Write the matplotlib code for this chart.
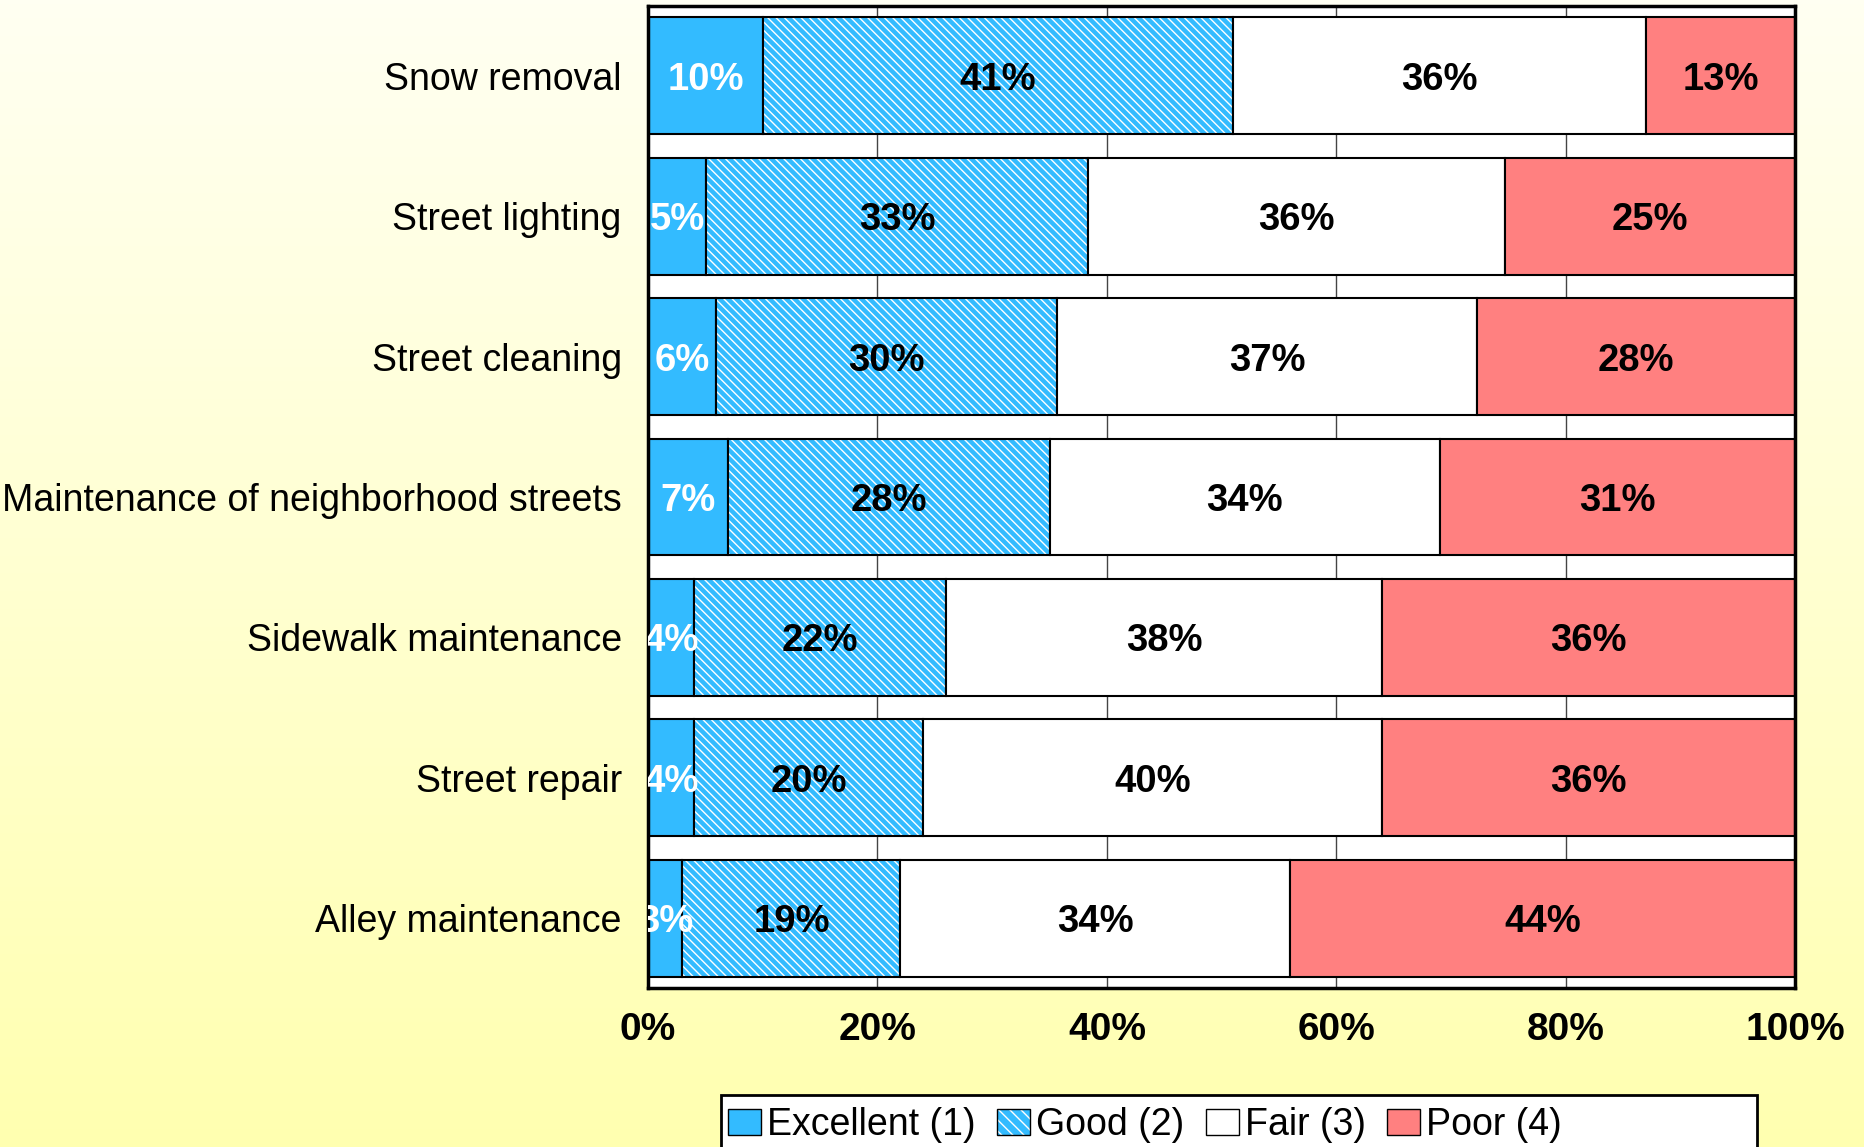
import numpy as np
import matplotlib
matplotlib.use('Agg')
import matplotlib.pyplot as plt
from matplotlib.patches import Patch, Rectangle
from matplotlib.legend_handler import HandlerTuple
from matplotlib.colors import LinearSegmentedColormap

plt.rcParams['font.family'] = ['Liberation Sans', 'DejaVu Sans']
plt.rcParams['hatch.linewidth'] = 1.0

categories = ["Snow removal", "Street lighting", "Street cleaning",
              "Maintenance of neighborhood streets", "Sidewalk maintenance",
              "Street repair", "Alley maintenance"]
excellent = [10, 5, 6, 7, 4, 4, 3]
good = [41, 33, 30, 28, 22, 20, 19]
fair = [36, 36, 37, 34, 38, 40, 34]
poor = [13, 25, 28, 31, 36, 36, 44]
series_names = ["Excellent (1)", "Good (2)", "Fair (3)", "Poor (4)"]
xticks = [0, 20, 40, 60, 80, 100]

colors = ["#33BBFF", "#33BBFF", "#FFFFFF", "#FF8080"]
text_colors = ["white", "black", "black", "black"]

data = np.array([excellent, good, fair, poor], dtype=float)
shares = data / data.sum(axis=0) * 100  # bars fill 100%

fig = plt.figure(figsize=(18.65, 11.47), dpi=100)

# yellow gradient background
bg = fig.add_axes([0, 0, 1, 1], zorder=-10)
grad = np.linspace(0, 1, 256).reshape(-1, 1)
cmap = LinearSegmentedColormap.from_list("bg", ["#FFFFF2", "#FFFFB0"])
bg.imshow(grad, aspect="auto", cmap=cmap, extent=[0, 1, 0, 1])
bg.axis("off")

ax = fig.add_axes([0.3475, 0.1386, 0.615, 0.8562])
ax.set_facecolor("white")
y = np.arange(len(categories))
h = 0.833
left = np.zeros(len(categories))
for i in range(4):
    w = shares[i]
    if i == 1:
        ax.barh(y, w, left=left, height=h, color=colors[i], edgecolor="white",
                hatch="\\\\\\\\", linewidth=0)
        ax.barh(y, w, left=left, height=h, fill=False, edgecolor="black", linewidth=1.5)
    else:
        ax.barh(y, w, left=left, height=h, color=colors[i], edgecolor="black", linewidth=1.5)
    for yi, val, l, wi in zip(y, data[i], left, w):
        ax.text(l + wi / 2, yi, f"{int(val)}%", ha="center", va="center_baseline",
                fontsize=27.5, fontweight="bold", color=text_colors[i], clip_on=True)
    left = left + w

ax.set_xlim(0, 100)
ax.set_ylim(6.4167 + 0.08, -0.4167 - 0.08)
ax.set_xticks(xticks)
ax.set_xticklabels([f"{t}%" for t in xticks], fontsize=28, fontweight="bold")
ax.set_yticks(y)
ax.set_yticklabels(categories, fontsize=27)
ax.tick_params(axis="x", length=0, pad=17)
ax.tick_params(axis="y", length=0, pad=19)
ax.grid(axis="x", color="#444444", linewidth=1)
ax.set_axisbelow(True)
for s in ax.spines.values():
    s.set_linewidth(2.5)
    s.set_color("black")

handles = [Patch(facecolor=colors[0], edgecolor="black"),
           (Patch(facecolor=colors[1], edgecolor="white", hatch="\\\\\\", linewidth=0),
            Patch(fill=False, edgecolor="black")),
           Patch(facecolor=colors[2], edgecolor="black"),
           Patch(facecolor=colors[3], edgecolor="black")]
fig.add_artist(Rectangle((721 / 1865, -0.05), (1757 - 721) / 1865, (1 - 1095 / 1147) + 0.05,
                         transform=fig.transFigure, facecolor="white", edgecolor="black",
                         linewidth=2, zorder=1))
fig.legend(handles, series_names, loc="center left",
           bbox_to_anchor=(728 / 1865, 1 - 1125 / 1147), ncol=4, frameon=False,
           fontsize=27, handlelength=0.88, handleheight=0.67, handletextpad=0.16,
           columnspacing=0.57, borderpad=0, borderaxespad=0,
           handler_map={tuple: HandlerTuple(ndivide=1, pad=0)})

fig.savefig("out.png", dpi=100)
